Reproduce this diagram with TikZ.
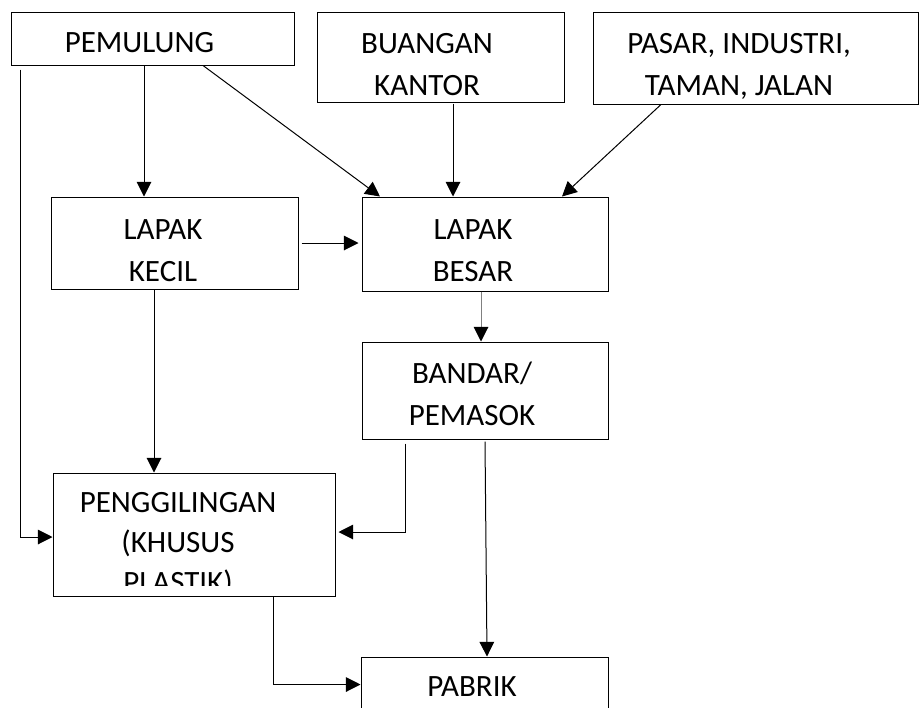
\documentclass[tikz,border=0pt]{standalone}
\usepackage{fontspec}
\setmainfont{Carlito}
\usetikzlibrary{arrows.meta}

\tikzset{
	kotak/.style = {draw = black, line width = 0.75pt, shape = rectangle, inner sep = 0pt},
	tulisan/.style = {font = \fontsize{23.25pt}{31.5pt}\selectfont, align = center, inner sep = 0pt, anchor = base},
	panah/.style = {-{Triangle[length = 11pt, width = 11pt]}, line width = 0.75pt}
}

\begin{document}
\begin{tikzpicture}[x = 0.75pt, y = -0.75pt]
	\clip (0, 0) rectangle (919, 707);

	\draw (152.5, 38.5) node[kotak,
					  minimum width = 212.25pt,
					  minimum height = 39.75pt
			   ](pemulung){};
	\draw (440.5, 57) node[kotak,
					  minimum width = 185.25pt,
					  minimum height = 67.5pt
			   ](buangan){};
	\draw (755.5, 58) node[kotak,
					  minimum width = 243.75pt,
					  minimum height = 69pt
			   ](pasar){};
	\draw (174.5, 243) node[kotak,
					  minimum width = 185.25pt,
					  minimum height = 69pt
			   ](kecil){};
	\draw (485, 244) node[kotak,
					  minimum width = 184.5pt,
					  minimum height = 70.5pt
			   ](besar){};
	\draw (485, 390.5) node[kotak,
					  minimum width = 184.5pt,
					  minimum height = 72.75pt
			   ](bandar){};
	\draw (194, 534.5) node[kotak,
					  minimum width = 211.5pt,
					  minimum height = 92.25pt
			   ](penggiling){};
	\draw (484.5, 697) node[kotak,
					  minimum width = 185.25pt,
					  minimum height = 60pt
			   ](pabrik){};

	\draw (139.5, 52) node[tulisan](pemulungteks){PEMULUNG};
	\draw (427, 95) node[tulisan](buanganteks){BUANGAN\\KANTOR};
	\draw (739, 95) node[tulisan](pasarteks){PASAR, INDUSTRI,\\TAMAN, JALAN};
	\draw (163, 281) node[tulisan](kecilteks){LAPAK\\KECIL};
	\draw (473, 281) node[tulisan](besarteks){LAPAK\\BESAR};
	\draw (472, 425) node[tulisan](bandarteks){BANDAR/\\PEMASOK};
	\draw (472, 696) node[tulisan](pabrikteks){PABRIK};
	\begin{scope}
		\clip (54, 474) rectangle (334, 585);
		\draw (178, 592) node[tulisan,
						  font = \fontsize{23.25pt}{30pt}\selectfont
				   ](penggilingteks){PENGGILINGAN\\(KHUSUS\\PLASTIK)};
	\end{scope}

	\draw[panah] ([shift = {(-8.5, 0)}]pemulung.south) -- ([shift = {(-30.5, 0)}]kecil.north);
	\draw[panah] ([shift = {(50.5, 0)}]pemulung.south) -- ([shift = {(-105, 0)}]besar.north);
	\draw[panah] ([shift = {(12.5, 1)}]buangan.south) -- ([shift = {(-32, 0)}]besar.north);
	\draw[panah] ([shift = {(-94.5, 0)}]pasar.south) -- ([shift = {(77, 0)}]besar.north);

	\draw[panah] ([shift = {(3, 0)}]kecil.east) -- ([shift = {(-3, 0)}]kecil.east -| besar.west);
	\draw[panah, draw = gray, -{Triangle[length = 11pt, width = 11pt, color = black]}]
		([shift = {(-4, 0)}]besar.south) -- ([shift = {(-4, 0)}]bandar.north);

	\draw[panah] ([shift = {(-20.5, 0)}]kecil.south) -- ([shift = {(-40, 0)}]penggiling.north);
	\draw[panah] ([shift = {(10, 4)}]pemulung.south west) |- ([shift = {(0, 2.5)}]penggiling.west);
	\draw[panah] ([shift = {(44, 4)}]bandar.south west) |- ([shift = {(3, -2.5)}]penggiling.east);

	\draw[panah] ([shift = {(0, 2)}]bandar.south) -- ([shift = {(2.5, 0)}]pabrik.north);
	\draw[panah] ([shift = {(79, 0)}]penggiling.south) |- ([shift = {(0, 28)}]pabrik.north west);
\end{tikzpicture}
\end{document}
